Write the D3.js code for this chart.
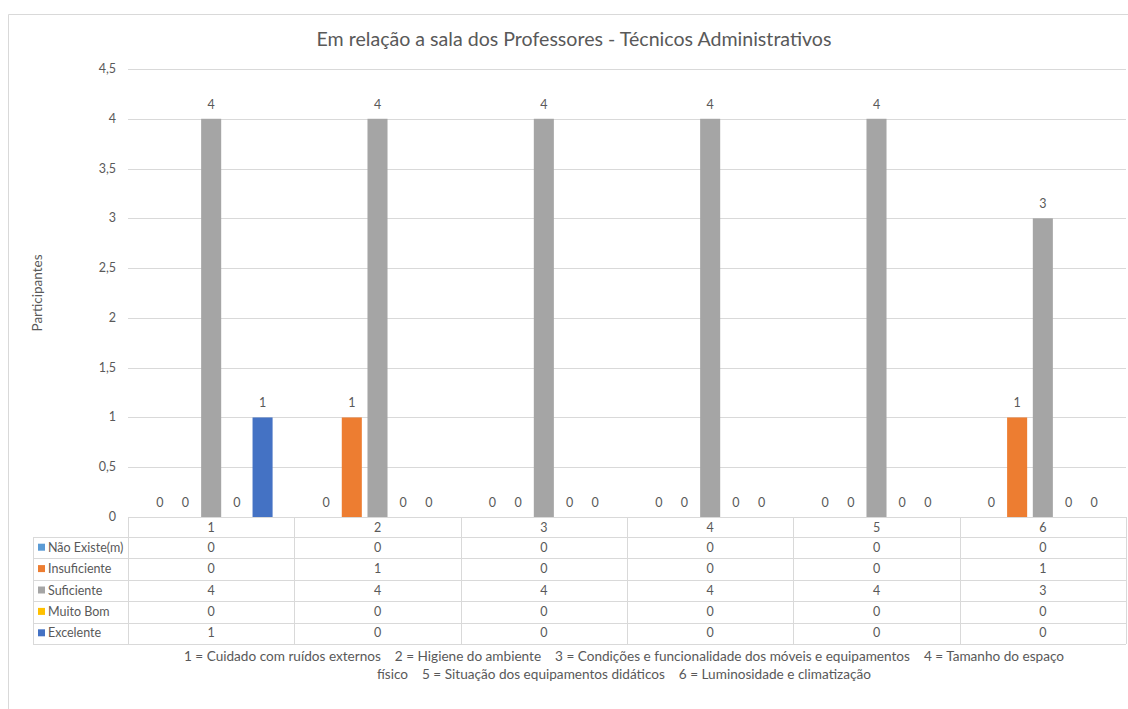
<!DOCTYPE html>
<html>
<head>
<meta charset="utf-8">
<script src="https://cdn.jsdelivr.net/npm/d3@7"></script>
<style>
  body { margin: 0; background: #fff; }
  text { font-family: Lato, "Open Sans", sans-serif; fill: #595959; }
</style>
</head>
<body>
<script>
const categories = ['1', '2', '3', '4', '5', '6'];
const seriesNames = ['Não Existe(m)', 'Insuficiente', 'Suficiente', 'Muito Bom', 'Excelente'];
const seriesColors = ['#5B9BD5', '#ED7D31', '#A5A5A5', '#FFC000', '#4472C4'];
const naoExiste = [0, 0, 0, 0, 0, 0];
const insuficiente = [0, 1, 0, 0, 0, 1];
const suficiente = [4, 4, 4, 4, 4, 3];
const muitoBom = [0, 0, 0, 0, 0, 0];
const excelente = [1, 0, 0, 0, 0, 0];
const yTicks = [0, 0.5, 1, 1.5, 2, 2.5, 3, 3.5, 4, 4.5];
const title = 'Em relação a sala dos Professores - Técnicos Administrativos';
const yTitle = 'Participantes';
const footer = [
  '1 = Cuidado com ruídos externos    2 = Higiene do ambiente    3 = Condições e funcionalidade dos móveis e equipamentos    4 = Tamanho do espaço',
  'físico    5 = Situação dos equipamentos didáticos    6 = Luminosidade e climatização'
];

const values = [naoExiste, insuficiente, suficiente, muitoBom, excelente];

const width = 1128, height = 709;
const plot = {left: 128, right: 1126, top: 69, bottom: 517};

const svg = d3.select('body').append('svg')
  .attr('width', width)
  .attr('height', height);

// outer frame
svg.append('path')
  .attr('d', `M8.5,${height} V14.5 H${width}`)
  .attr('fill', 'none')
  .attr('stroke', '#d9d9d9');

svg.append('text')
  .attr('x', 574)
  .attr('y', 46)
  .attr('text-anchor', 'middle')
  .style('font-size', '19.6px')
  .text(title);

const y = d3.scaleLinear().domain([0, 4.5]).range([plot.bottom, plot.top]);
const x0 = d3.scaleBand().domain(categories).range([plot.left, plot.right]);
const x1 = d3.scaleBand().domain(d3.range(seriesNames.length))
  .range([-64.25, 64.25]).paddingInner(0.22).paddingOuter(0.11);

const fmt = d => String(d).replace('.', ',');

// gridlines + y labels
const yAxis = svg.append('g');
yAxis.selectAll('line').data(yTicks).enter().append('line')
  .attr('x1', plot.left).attr('x2', plot.right)
  .attr('y1', d => Math.round(y(d)) + 0.5).attr('y2', d => Math.round(y(d)) + 0.5)
  .attr('stroke', '#d9d9d9');
yAxis.selectAll('text').data(yTicks).enter().append('text')
  .attr('x', 116)
  .attr('y', d => y(d) + 4)
  .attr('text-anchor', 'end')
  .style('font-size', '12.5px')
  .text(fmt);

svg.append('text')
  .attr('transform', `translate(42, 293) rotate(-90)`)
  .attr('text-anchor', 'middle')
  .style('font-size', '13.5px')
  .text(yTitle);

// bars
const groups = svg.append('g').selectAll('g')
  .data(categories).enter().append('g')
  .attr('transform', d => `translate(${x0(d) + x0.bandwidth() / 2},0)`);

groups.each(function(cat, ci) {
  const g = d3.select(this);
  seriesNames.forEach((s, si) => {
    const v = values[si][ci];
    g.append('rect')
      .attr('x', x1(si))
      .attr('width', x1.bandwidth())
      .attr('y', y(v))
      .attr('height', y(0) - y(v))
      .attr('fill', seriesColors[si]);
    g.append('text')
      .attr('x', x1(si) + x1.bandwidth() / 2)
      .attr('y', y(v) - 10)
      .attr('text-anchor', 'middle')
      .style('font-size', '12.5px')
      .text(v);
  });
});

// data table
const rowTop = 517, headH = 20, rowH = 21.4;
const tableBottom = rowTop + headH + rowH * seriesNames.length;
const legendLeft = 33;
const table = svg.append('g').attr('stroke', '#d9d9d9').attr('fill', 'none');

// horizontal lines
table.append('line')
  .attr('x1', plot.left).attr('x2', plot.right)
  .attr('y1', rowTop + 0.5).attr('y2', rowTop + 0.5);
d3.range(seriesNames.length + 1).forEach(i => {
  const yy = Math.round(rowTop + headH + rowH * i) + 0.5;
  table.append('line')
    .attr('x1', legendLeft).attr('x2', plot.right)
    .attr('y1', yy).attr('y2', yy);
});
// vertical lines
table.append('line')
  .attr('x1', legendLeft + 0.5).attr('x2', legendLeft + 0.5)
  .attr('y1', rowTop + headH).attr('y2', tableBottom);
categories.concat(['end']).forEach((c, i) => {
  const xx = Math.round(plot.left + x0.step() * i) + 0.5;
  table.append('line')
    .attr('x1', xx).attr('x2', xx)
    .attr('y1', rowTop).attr('y2', tableBottom);
});

// header numbers
svg.append('g').selectAll('text')
  .data(categories).enter().append('text')
  .attr('x', d => x0(d) + x0.bandwidth() / 2)
  .attr('y', rowTop + 15)
  .attr('text-anchor', 'middle')
  .style('font-size', '12.5px')
  .text(d => d);

seriesNames.forEach((s, si) => {
  const ty = rowTop + headH + rowH * si + rowH / 2;
  svg.append('rect')
    .attr('x', 38).attr('y', ty - 4)
    .attr('width', 7).attr('height', 7)
    .attr('fill', seriesColors[si]);
  svg.append('text')
    .attr('x', 48).attr('y', ty + 4)
    .style('font-size', '12.5px')
    .text(s);
  categories.forEach((c, ci) => {
    svg.append('text')
      .attr('x', x0(c) + x0.bandwidth() / 2)
      .attr('y', ty + 4)
      .attr('text-anchor', 'middle')
      .style('font-size', '12.5px')
      .text(values[si][ci]);
  });
});

// footer
footer.forEach((line, i) => {
  svg.append('text')
    .attr('x', 624)
    .attr('y', 661 + i * 18)
    .attr('text-anchor', 'middle')
    .style('font-size', '13.6px')
    .attr('xml:space', 'preserve')
    .text(line);
});
</script>
</body>
</html>
